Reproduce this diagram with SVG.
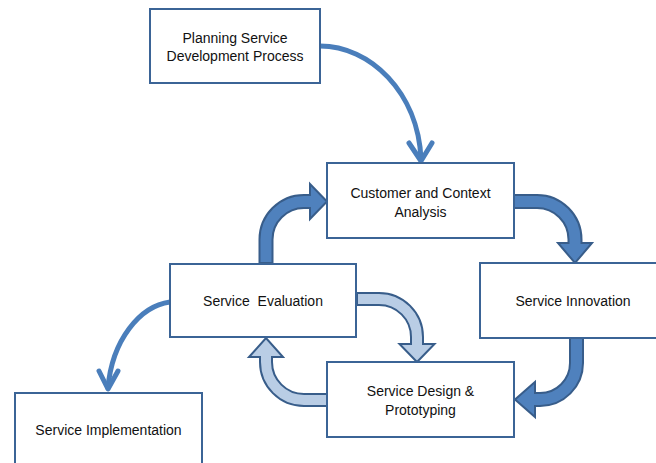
<svg xmlns="http://www.w3.org/2000/svg" width="656" height="463" viewBox="0 0 656 463">
<style>
.box{fill:#ffffff;stroke:#3b6496;stroke-width:2}
.lbl{font-family:"Liberation Sans",Arial,sans-serif;font-size:14px;fill:#111;text-anchor:middle;white-space:pre}
.thin{fill:none;stroke:#4a7ebb;stroke-width:5;stroke-linecap:round;stroke-linejoin:round}
.blk{fill:#4f81bd;stroke:#385d8a;stroke-width:2;stroke-linejoin:miter}
.blk-l{fill:#b9cde5;stroke:#385d8a;stroke-width:2;stroke-linejoin:miter}
</style>
<rect width="656" height="463" fill="#ffffff"/>
<g id="connectors">
<path class="thin" d="M320,46 C370,46 418,92 421,159"/>
<path class="thin" d="M409,143 L421,161 L432,143"/>
<path class="thin" d="M170,302 C140,306 112,340 108,388"/>
<path class="thin" d="M99,371 L108,389 L118,371"/>
<path class="blk" d="M259.5,263 L259.5,239.5 A44.5,44.5 0 0 1 304,195 L310,195 L310,184 L327,201.5 L310,219 L310,208 L304,208 A31.5,31.5 0 0 0 272.5,239.5 L272.5,263 Z"/>
<path class="blk" d="M514,195 L537,195 A44.5,44.5 0 0 1 581.5,239.5 L581.5,243 L592,243 L575,263 L558,243 L568.5,243 L568.5,239.5 A31.5,31.5 0 0 0 537,208 L514,208 Z"/>
<path class="blk" d="M583,338 L583,363 A43,43 0 0 1 540,406 L535,406 L535,417 L515,399.5 L535,382 L535,393 L540,393 A30,30 0 0 0 570,363 L570,338 Z"/>
<path class="blk-l" d="M357,293 L379,293 A44,44 0 0 1 423,337 L423,344 L434.5,344 L417,362 L399.5,344 L411,344 L411,337 A32,32 0 0 0 379,305 L357,305 Z"/>
<path class="blk-l" d="M327,394 L304,394 A32,32 0 0 1 272,362 L272,357 L283,357 L266,338 L249,357 L260,357 L260,362 A44,44 0 0 0 304,406 L327,406 Z"/>
</g>
<g id="planning">
<rect class="box" x="150" y="9" width="170" height="74"/>
<text class="lbl" x="235" y="43">Planning Service</text>
<text class="lbl" x="235" y="61">Development Process</text>
</g>
<g id="customer">
<rect class="box" x="327" y="163" width="187" height="75"/>
<text class="lbl" x="420.5" y="198">Customer and Context</text>
<text class="lbl" x="420.5" y="217">Analysis</text>
</g>
<g id="innovation">
<rect class="box" x="480" y="263" width="186" height="75"/>
<text class="lbl" x="573" y="306">Service Innovation</text>
</g>
<g id="evaluation">
<rect class="box" x="170" y="264" width="186" height="73"/>
<text class="lbl" x="263" y="306">Service  Evaluation</text>
</g>
<g id="design">
<rect class="box" x="327" y="362" width="187" height="75"/>
<text class="lbl" x="420.5" y="396">Service Design &amp;</text>
<text class="lbl" x="420.5" y="415">Prototyping</text>
</g>
<g id="implementation">
<rect class="box" x="15" y="393" width="187" height="80"/>
<text class="lbl" x="108.5" y="435">Service Implementation</text>
</g>
</svg>
